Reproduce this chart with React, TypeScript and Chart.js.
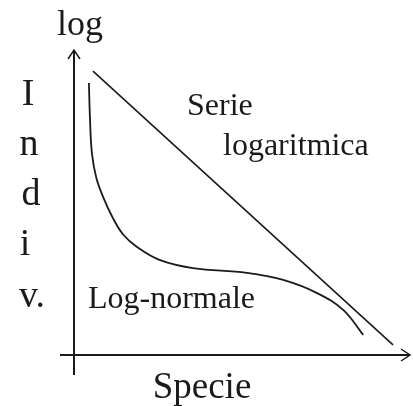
import React, { useEffect, useRef } from "react";
import { Chart, registerables } from "chart.js";

Chart.register(...registerables);

// Species rank (x) vs. log number of individuals (y), both on a 0–100 scale.
const logSeriesX = [5.6, 94.1];
const logSeriesY = [93.1, 3.3];

const logNormalX = [4.4, 4.7, 5.3, 6.6, 8.7, 11.2, 14.5, 18.6, 25.4, 35.1, 51.0, 61.7, 71.7, 79.4, 85.3];
const logNormalY = [89.2, 78.0, 66.0, 58.0, 51.5, 45.5, 39.5, 35.4, 31.1, 28.5, 26.9, 24.6, 20.3, 14.8, 6.6];

const yAxisTitle = "log";
const yAxisLetters = ["I", "n", "d", "i", "v."];
const xAxisTitle = "Specie";
const logSeriesLabel = ["Serie", "logaritmica"];
const logNormalLabel = "Log-normale";

const INK = "#1a1a1a";
const FONT = '"Liberation Serif", "DejaVu Serif", serif';

const toPoints = (xs: number[], ys: number[]) => xs.map((x, i) => ({ x, y: ys[i] }));

const diagramPlugin = {
  id: "diagram",
  beforeDatasetsDraw(chart: any) {
    const { ctx, chartArea } = chart;
    const x0 = chartArea.left;
    const y0 = chartArea.bottom;
    ctx.save();
    ctx.strokeStyle = INK;
    ctx.lineWidth = 2;
    // vertical axis with arrow
    ctx.beginPath();
    ctx.moveTo(x0, y0 + 20);
    ctx.lineTo(x0, chartArea.top);
    ctx.stroke();
    ctx.lineWidth = 1.5;
    ctx.beginPath();
    ctx.moveTo(x0 - 6, chartArea.top + 9);
    ctx.lineTo(x0, chartArea.top);
    ctx.lineTo(x0 + 6, chartArea.top + 9);
    ctx.stroke();
    // horizontal axis with arrow
    ctx.lineWidth = 2;
    const xEnd = chartArea.right - 3;
    ctx.beginPath();
    ctx.moveTo(x0 - 14, y0);
    ctx.lineTo(xEnd, y0);
    ctx.stroke();
    ctx.lineWidth = 1.5;
    ctx.beginPath();
    ctx.moveTo(xEnd - 9, y0 - 6);
    ctx.lineTo(xEnd, y0);
    ctx.lineTo(xEnd - 9, y0 + 6);
    ctx.stroke();
    ctx.restore();
  },
  afterDraw(chart: any) {
    const { ctx } = chart;
    ctx.save();
    ctx.fillStyle = INK;
    ctx.textBaseline = "alphabetic";

    ctx.textAlign = "center";
    ctx.font = `36px ${FONT}`;
    ctx.fillText(yAxisTitle, 80, 35);

    ctx.font = `38px ${FONT}`;
    const letterX = [28, 29, 31, 25, 32];
    const letterY = [105, 155, 205, 255, 307];
    yAxisLetters.forEach((t, i) => ctx.fillText(t, letterX[i], letterY[i]));

    ctx.font = `37px ${FONT}`;
    ctx.fillText(xAxisTitle, 202, 398);

    ctx.textAlign = "left";
    ctx.font = `32px ${FONT}`;
    ctx.fillText(logSeriesLabel[0], 187, 115);
    ctx.fillText(logSeriesLabel[1], 223, 155);
    ctx.fillText(logNormalLabel, 88, 308);
    ctx.restore();
  },
};

export default function App() {
  const canvasRef = useRef<HTMLCanvasElement | null>(null);

  useEffect(() => {
    if (!canvasRef.current) return;
    const chart = new Chart(canvasRef.current, {
      type: "scatter",
      data: {
        datasets: [
          {
            label: "Serie logaritmica",
            data: toPoints(logSeriesX, logSeriesY),
            showLine: true,
            borderColor: INK,
            borderWidth: 1.6,
            pointRadius: 0,
            tension: 0,
          },
          {
            label: "Log-normale",
            data: toPoints(logNormalX, logNormalY),
            showLine: true,
            borderColor: INK,
            borderWidth: 1.8,
            pointRadius: 0,
            tension: 0.4,
          },
        ],
      },
      options: {
        animation: false,
        responsive: false,
        devicePixelRatio: 1,
        layout: { padding: { left: 74, top: 50, right: 0, bottom: 51 } },
        scales: {
          x: { type: "linear", min: 0, max: 100, display: false },
          y: { type: "linear", min: 0, max: 100, display: false },
        },
        plugins: {
          legend: { display: false },
          tooltip: { enabled: false },
        },
      },
      plugins: [diagramPlugin],
    });
    // redraw once the serif face is available so labels use it
    let alive = true;
    const redraw = () => {
      if (alive) chart.draw();
    };
    if (document.fonts && document.fonts.load) {
      document.fonts.load(`32px "Liberation Serif"`).then(redraw, redraw);
      document.fonts.ready.then(redraw);
    }
    const timer = window.setTimeout(redraw, 150);
    return () => {
      alive = false;
      window.clearTimeout(timer);
      chart.destroy();
    };
  }, []);

  return (
    <div style={{ position: "absolute", top: 0, left: 0, width: 413, height: 406, background: "#fff" }}>
      <canvas ref={canvasRef} width={413} height={406} />
      <span
        aria-hidden="true"
        style={{
          position: "absolute",
          left: -9999,
          top: 0,
          fontFamily: FONT,
          fontSize: 32,
          visibility: "hidden",
        }}
      >
        {logNormalLabel}
      </span>
    </div>
  );
}
